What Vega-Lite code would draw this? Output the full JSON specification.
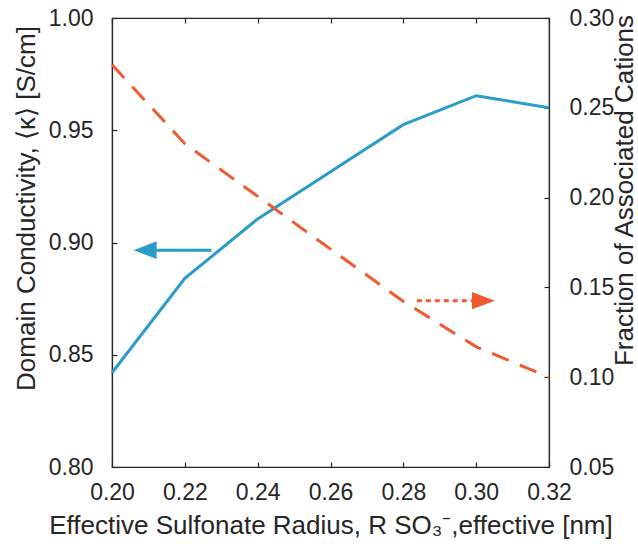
{
  "$schema": "https://vega.github.io/schema/vega-lite/v6.json",
  "width": 437,
  "height": 449,
  "autosize": {"type": "none"},
  "padding": {"left": 112, "top": 18, "right": 89, "bottom": 77},
  "background": "white",
  "config": {
    "view": {"stroke": "#262626", "strokeWidth": 1.2},
    "axis": {
      "domainColor": "#262626", "tickColor": "#262626", "labelColor": "#262626", "titleColor": "#262626",
      "labelFont": "Liberation Sans", "titleFont": "Liberation Sans",
      "labelFontSize": 23, "titleFontSize": 26, "titleFontWeight": "normal",
      "labelFlush": false, "labelOverlap": false,
      "grid": false, "tickSize": -5, "domainWidth": 1.2, "tickWidth": 1.2
    }
  },
  "datasets": {
    "conductivity": [
      {"x": 0.20, "y": 0.842}, {"x": 0.22, "y": 0.884}, {"x": 0.24, "y": 0.9105},
      {"x": 0.26, "y": 0.9315}, {"x": 0.28, "y": 0.9525}, {"x": 0.30, "y": 0.9654}, {"x": 0.32, "y": 0.960}
    ],
    "fraction": [
      {"x": 0.20, "y": 0.274}, {"x": 0.22, "y": 0.230}, {"x": 0.24, "y": 0.2007},
      {"x": 0.26, "y": 0.1713}, {"x": 0.28, "y": 0.1422}, {"x": 0.30, "y": 0.1169}, {"x": 0.32, "y": 0.100}
    ],
    "shafts": [
      {"series": "conductivity", "x": 0.2273, "x2": 0.2100, "y": 0.8966},
      {"series": "fraction", "x": 0.2837, "x2": 0.3000, "y": 0.1426}
    ],
    "heads": [
      {"series": "conductivity", "x": 0.2091, "y": 0.8966},
      {"series": "fraction", "x": 0.3020, "y": 0.1426}
    ]
  },
  "layer": [
    {
      "encoding": {
        "x": {"field": "x", "type": "quantitative",
          "scale": {"domain": [0.2, 0.32], "nice": false, "zero": false},
          "axis": {"orient": "bottom", "values": [0.2, 0.22, 0.24, 0.26, 0.28, 0.3, 0.32], "format": ".2f",
            "labelPadding": 19, "titleBaseline": "alphabetic", "titleY": 66,
            "title": "Effective Sulfonate Radius, R SO₃⁻,effective [nm]"}},
        "y": {"field": "y", "type": "quantitative",
          "scale": {"domain": [0.8, 1.0], "nice": false, "zero": false},
          "axis": {"orient": "left", "values": [0.8, 0.85, 0.9, 0.95, 1.0], "format": ".2f",
            "labelPadding": 24, "title": "Domain Conductivity, ⟨κ⟩ [S/cm]",
            "titleAngle": 270, "titleBaseline": "alphabetic", "titleX": -78, "titleY": 190}}
      },
      "layer": [
        {"data": {"name": "conductivity"}, "mark": {"type": "line", "color": "#2a9cc8", "strokeWidth": 3}},
        {"data": {"name": "shafts"}, "transform": [{"filter": "datum.series === 'conductivity'"}],
          "mark": {"type": "rule", "color": "#2a9cc8", "strokeWidth": 3},
          "encoding": {"x2": {"field": "x2"}}},
        {"data": {"name": "heads"}, "transform": [{"filter": "datum.series === 'conductivity'"}],
          "mark": {"type": "point", "shape": "M-1,0L1,-0.78L1,0.78Z", "filled": true, "opacity": 1, "size": 529, "color": "#2a9cc8"}}
      ]
    },
    {
      "encoding": {
        "x": {"field": "x", "type": "quantitative",
          "scale": {"domain": [0.2, 0.32], "nice": false, "zero": false},
          "axis": {"orient": "top", "values": [0.2, 0.22, 0.24, 0.26, 0.28, 0.3, 0.32], "labels": false, "title": null}},
        "y": {"field": "y", "type": "quantitative",
          "scale": {"domain": [0.05, 0.3], "nice": false, "zero": false},
          "axis": {"orient": "right", "values": [0.05, 0.1, 0.15, 0.2, 0.25, 0.3], "format": ".2f",
            "labelPadding": 25, "title": "Fraction of Associated Cations",
            "titleAngle": 270, "titleBaseline": "alphabetic", "titleX": 83, "titleY": 172}}
      },
      "layer": [
        {"data": {"name": "fraction"}, "mark": {"type": "line", "color": "#f15a30", "strokeWidth": 3, "strokeDash": [18, 12]}},
        {"data": {"name": "shafts"}, "transform": [{"filter": "datum.series === 'fraction'"}],
          "mark": {"type": "rule", "color": "#f15a30", "strokeWidth": 3, "strokeDash": [5, 4]},
          "encoding": {"x2": {"field": "x2"}}},
        {"data": {"name": "heads"}, "transform": [{"filter": "datum.series === 'fraction'"}],
          "mark": {"type": "point", "shape": "M1,0L-1,-0.75L-1,0.75Z", "filled": true, "opacity": 1, "size": 529, "color": "#f15a30"}}
      ]
    }
  ],
  "resolve": {"scale": {"y": "independent"}, "axis": {"x": "independent"}}
}
